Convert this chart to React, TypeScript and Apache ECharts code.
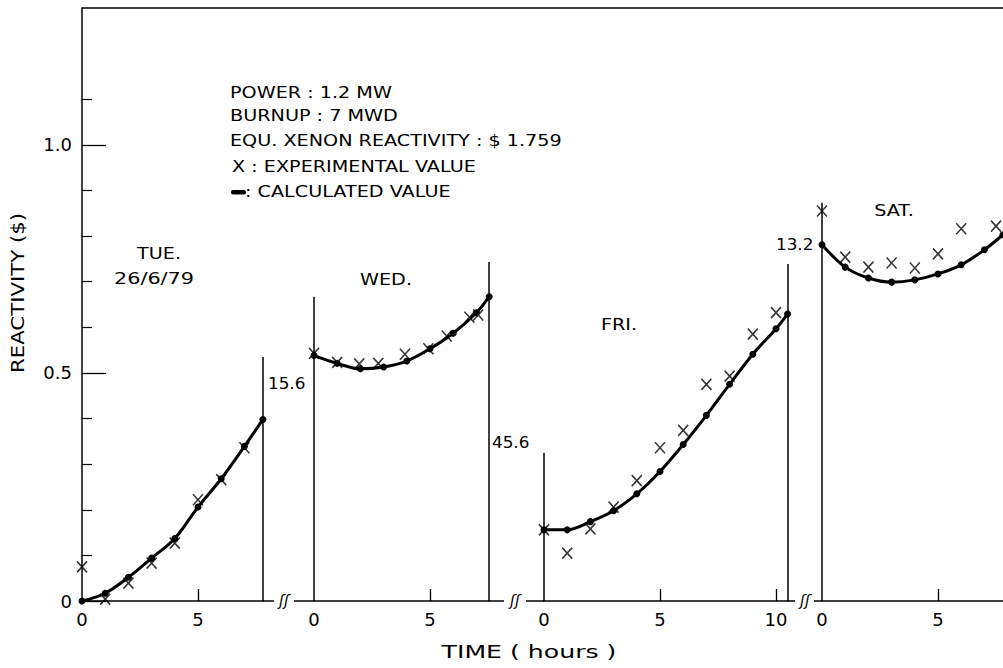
import React, { useEffect, useRef } from "react";
import * as echarts from "echarts";

// ---- data (hours since segment start, reactivity in $) ----
const TUE_HOURS = [0, 1, 2, 3, 4, 5, 6, 7, 7.8];
const TUE_CALC = [0.0, 0.017, 0.052, 0.094, 0.137, 0.206, 0.268, 0.339, 0.398];
const TUE_EXP_H = [0, 1, 2, 3, 4, 5, 6, 7];
const TUE_EXP = [0.075, 0.004, 0.039, 0.083, 0.127, 0.222, 0.266, 0.336];

const WED_HOURS = [0, 1, 2, 3, 4, 5, 6, 7, 7.55];
const WED_CALC = [0.538, 0.521, 0.509, 0.513, 0.526, 0.553, 0.587, 0.632, 0.667];
const WED_EXP_H = [0, 1, 1.95, 2.77, 3.92, 4.93, 5.72, 6.7, 7.08];
const WED_EXP = [0.543, 0.523, 0.52, 0.521, 0.541, 0.553, 0.581, 0.622, 0.627];

const FRI_HOURS = [0, 1, 2, 3, 4, 5, 6, 7, 8, 9, 10, 10.5];
const FRI_CALC = [0.156, 0.156, 0.174, 0.198, 0.235, 0.284, 0.343, 0.407, 0.475, 0.541, 0.597, 0.629];
const FRI_EXP_H = [0, 1, 2, 3, 4, 5, 6, 7, 8, 9, 10];
const FRI_EXP = [0.156, 0.105, 0.158, 0.206, 0.264, 0.336, 0.374, 0.475, 0.493, 0.585, 0.632];

const SAT_HOURS = [0, 1, 2, 3, 4, 5, 6, 7, 7.8];
const SAT_CALC = [0.781, 0.732, 0.708, 0.699, 0.704, 0.717, 0.737, 0.77, 0.803];
const SAT_EXP_H = [0, 1, 2, 3, 4, 5, 6, 7.5];
const SAT_EXP = [0.855, 0.754, 0.732, 0.741, 0.73, 0.761, 0.816, 0.822];

// segment extents (hours) and vertical marker lines [hour, top]
const SEG_END = [7.8, 7.55, 10.5, 7.8];
const SEG_VLINES = [
  [[7.8, 0.535]],
  [[0, 0.667], [7.55, 0.743]],
  [[0, 0.325], [10.5, 0.739]],
  [[0, 0.873]],
];
const X_TICKS = [[5], [5], [5, 10], [5]];
const X_LABELS = [[0, 5], [0, 5], [0, 5, 10], [0, 5]];
const Y_MAJOR = [0, 0.5, 1.0];
const Y_MINOR = [0.1, 0.2, 0.3, 0.4, 0.6, 0.7, 0.8, 0.9, 1.1];
const GAP_LABELS = ["15.6", "45.6", "13.2"];
const DAY_LABELS = ["TUE.", "WED.", "FRI.", "SAT."];
const NOTES = [
  "POWER : 1.2 MW",
  "BURNUP : 7 MWD",
  "EQU. XENON REACTIVITY : $ 1.759",
  "X : EXPERIMENTAL VALUE",
];

const FONT = "DejaVu Sans";
const PX_PER_HOUR = 23.2;
const SEG_LEFT = [82, 314, 544, 822];
const TOP = 8;
const HEIGHT = 593;
const W = 1003;

export default function App() {
  const ref = useRef<HTMLDivElement>(null);
  useEffect(() => {
    if (!ref.current) return;
    const chart = echarts.init(ref.current, null, { renderer: "svg" });

    const grids = SEG_LEFT.map((left, i) => {
      const width = SEG_END[i] * PX_PER_HOUR;
      return { left, top: TOP, width, height: HEIGHT, containLabel: false };
    });

    const xAxes = SEG_END.map((end, i) => ({
      gridIndex: i,
      type: "value",
      min: 0,
      max: end,
      axisLine: { show: true, onZero: false, lineStyle: { color: "#000", width: 1.5 } },
      axisTick: {
        show: true,
        inside: true,
        length: 12,
        customValues: X_TICKS[i],
        lineStyle: { color: "#000", width: 1.3 },
      },
      axisLabel: {
        customValues: X_LABELS[i],
        color: "#000",
        fontSize: 18,
        fontFamily: FONT,
        margin: 9,
      },
      splitLine: { show: false },
    }));

    const yAxes: any[] = SEG_END.map((_, i) => ({
      gridIndex: i,
      type: "value",
      min: 0,
      max: 1.3,
      show: i === 0,
      position: "left",
      axisLine: { show: true, onZero: false, lineStyle: { color: "#000", width: 1.5 } },
      axisTick: {
        show: true,
        inside: true,
        length: 24,
        customValues: Y_MAJOR,
        lineStyle: { color: "#000", width: 1.3 },
      },
      axisLabel: {
        customValues: Y_MAJOR,
        formatter: (v: number) => (v === 0 ? "0" : v.toFixed(1)),
        color: "#000",
        fontSize: 18,
        fontFamily: FONT,
        margin: 10,
      },
      splitLine: { show: false },
    }));
    yAxes.push({
      gridIndex: 0,
      type: "value",
      min: 0,
      max: 1.3,
      position: "left",
      axisLine: { show: false },
      axisTick: {
        show: true,
        inside: true,
        length: 10,
        customValues: Y_MINOR,
        lineStyle: { color: "#000", width: 1.2 },
      },
      axisLabel: { show: false },
      splitLine: { show: false },
    });

    const segs = [
      [TUE_HOURS, TUE_CALC, TUE_EXP_H, TUE_EXP],
      [WED_HOURS, WED_CALC, WED_EXP_H, WED_EXP],
      [FRI_HOURS, FRI_CALC, FRI_EXP_H, FRI_EXP],
      [SAT_HOURS, SAT_CALC, SAT_EXP_H, SAT_EXP],
    ];
    const series: any[] = [];
    segs.forEach(([hc, vc, he, ve], i) => {
      series.push({
        type: "line",
        xAxisIndex: i,
        yAxisIndex: i,
        data: (hc as number[]).map((h, k) => [h, (vc as number[])[k]]),
        smooth: 0.35,
        symbol: "circle",
        symbolSize: 7,
        lineStyle: { color: "#000", width: 3 },
        itemStyle: { color: "#000" },
        z: 3,
        markLine: {
          silent: true,
          symbol: "none",
          label: { show: false },
          lineStyle: { color: "#000", width: 1.5, type: "solid" },
          data: SEG_VLINES[i].map(([x, t]) => [{ coord: [x, 0] }, { coord: [x, t] }]),
        },
      });
      series.push({
        type: "scatter",
        xAxisIndex: i,
        yAxisIndex: i,
        data: (he as number[]).map((h, k) => [h, (ve as number[])[k]]),
        symbol: "path://M0 0L10 11M10 0L0 11",
        symbolSize: [10, 11],
        itemStyle: { color: "none", borderColor: "#000", borderWidth: 1.6 },
        z: 4,
      });
    });

    const txt = (text: string, x: number, y: number, size = 16, align = "left", extra: any = {}) => ({
      type: "text",
      x,
      y,
      scaleX: 1.2,
      ...extra,
      style: {
        text,
        fill: "#000",
        font: `${size}px "${FONT}"`,
        textAlign: align,
        textVerticalAlign: "middle",
      },
    });
    const ln = (x1: number, y1: number, x2: number, y2: number, w = 1.5) => ({
      type: "line",
      shape: { x1, y1, x2, y2 },
      style: { stroke: "#000", lineWidth: w },
    });
    const base = TOP + HEIGHT;
    const brk = (x: number) => ({
      type: "text",
      x,
      y: base,
      style: {
        text: "ʃʃ",
        fill: "#000",
        font: `italic 15px "${FONT}"`,
        textAlign: "center",
        textVerticalAlign: "middle",
      },
    });

    const graphic: any[] = [
      ln(82, TOP, W, TOP),
      // axis breaks
      ln(263, base, 274, base),
      brk(284),
      ln(294, base, 314, base),
      ln(489, base, 504, base),
      brk(515),
      ln(526, base, 544, base),
      ln(787, base, 795, base),
      brk(805),
      ln(814, base, 822, base),
      // gap labels
      txt(GAP_LABELS[0], 268, 384, 16, "left", { scaleX: 1.05 }),
      txt(GAP_LABELS[1], 492, 443, 16, "left", { scaleX: 1.05 }),
      txt(GAP_LABELS[2], 776, 245, 16, "left", { scaleX: 1.05 }),
      // day labels
      txt(DAY_LABELS[0], 159, 254, 16, "center"),
      txt("26/6/79", 154, 278, 16, "center", { scaleX: 1.3 }),
      txt(DAY_LABELS[1], 386, 280, 16, "center"),
      txt(DAY_LABELS[2], 619, 325, 16, "center"),
      txt(DAY_LABELS[3], 894, 211, 16, "center"),
      // notes
      txt(NOTES[0], 230, 93, 16),
      txt(NOTES[1], 230, 116, 16),
      txt(NOTES[2], 230, 141, 16),
      txt(NOTES[3], 232, 167, 16),
      { type: "rect", shape: { x: 231, y: 190, width: 15, height: 4.5, r: 2 }, style: { fill: "#000" } },
      txt(": CALCULATED VALUE", 245, 192, 16),
      // axis titles
      txt("REACTIVITY ($)", 18, 293, 17, "center", { rotation: Math.PI / 2, scaleX: 1.25 }),
      txt("TIME ( hours )", 529, 652, 18, "center", { scaleX: 1.4 }),
    ];

    chart.setOption({
      animation: false,
      backgroundColor: "#fff",
      grid: grids,
      xAxis: xAxes,
      yAxis: yAxes,
      series,
      graphic,
    });
    return () => chart.dispose();
  }, []);
  return (
    <div
      ref={ref}
      style={{ position: "fixed", left: 0, top: 0, width: W, height: 668, background: "#fff" }}
    />
  );
}
